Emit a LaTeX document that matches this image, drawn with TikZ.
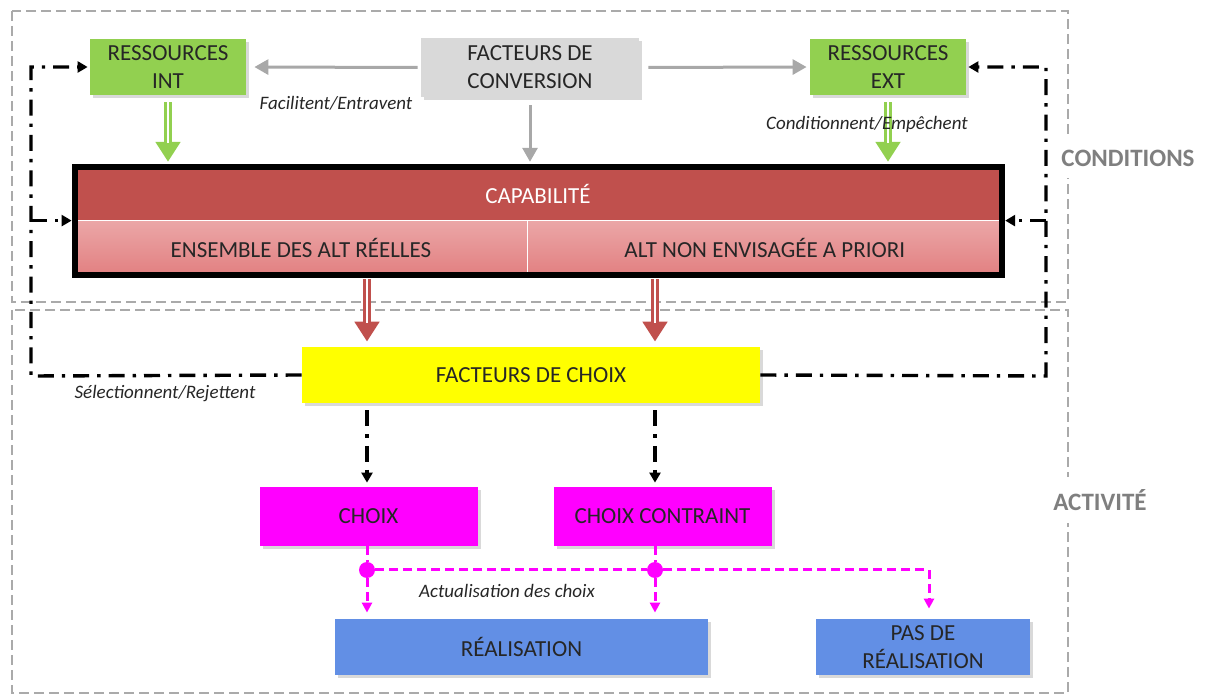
\documentclass[tikz,border=0pt]{standalone}
\usepackage{fontspec}
\setmainfont{Carlito}
\usetikzlibrary{arrows.meta,positioning,shadows}

\definecolor{resgreen}{RGB}{146,208,80}
\definecolor{convgray}{RGB}{217,217,217}
\definecolor{arrgray}{RGB}{168,168,168}
\definecolor{capred}{RGB}{192,80,77}
\definecolor{altred}{RGB}{226,128,129}
\definecolor{choixyellow}{RGB}{255,255,0}
\definecolor{choixmag}{RGB}{255,0,255}
\definecolor{realblue}{RGB}{98,143,229}
\definecolor{zonegray}{RGB}{170,170,170}
\definecolor{zonetext}{RGB}{127,127,127}
\definecolor{txtdark}{RGB}{38,38,38}

\begin{document}
\begin{tikzpicture}[x=0.5pt,y=-0.5pt,
   box/.style={rectangle,inner sep=0pt,align=center,text=txtdark,
               font=\fontsize{11.5}{14}\selectfont,
               drop shadow={shadow xshift=1.5pt,shadow yshift=-1.5pt,opacity=0.3}},
   res/.style={box,fill=resgreen,minimum width=78pt,minimum height=28pt},
   conv/.style={box,fill=convgray,minimum width=109pt,minimum height=29.5pt},
   capbox/.style={rectangle,inner sep=0pt,fill=capred,text=white,
                  font=\fontsize{11.5}{14}\selectfont,minimum width=463pt,minimum height=26.5pt},
   altbox/.style={rectangle,inner sep=0pt,top color=altred!70!white,bottom color=altred,
                  text=txtdark,font=\fontsize{11.5}{14}\selectfont,minimum height=27pt},
   fchoix/.style={box,fill=choixyellow,minimum width=229pt,minimum height=28pt},
   choix/.style={box,fill=choixmag,minimum width=109pt,minimum height=29.5pt},
   real/.style={box,fill=realblue,minimum height=28pt},
   dot/.style={circle,fill=choixmag,inner sep=0pt,minimum size=8pt},
   lbl/.style={text=txtdark,font=\fontsize{9.5}{11}\selectfont\itshape},
   zonelbl/.style={fill=white,text=zonetext,inner xsep=2pt,inner ysep=6pt,
                   font=\fontsize{12.5}{14}\selectfont\bfseries},
   zone/.style={zonegray,line width=1pt,dash pattern=on 5pt off 2.5pt},
   cvarrow/.style={arrgray,line width=1.5pt,-{Triangle[length=7pt,width=7.5pt]}},
   wide/.style={line width=4pt,-{Triangle[length=10pt,width=12pt]}},
   gap/.style={white,line width=1.4pt},
   choice/.style={line width=1.7pt,dash pattern=on 8pt off 4pt on 1.7pt off 4pt},
   tip/.style={-{Triangle[length=5pt,width=5.5pt]}},
   act/.style={choixmag,line width=1.5pt,dash pattern=on 4.5pt off 2.5pt},
   acttip/.style={-{Triangle[length=5pt,width=5pt]}}]

   \useasboundingbox (0,0) rectangle (1207,695);

   \draw[zone] (12,11) rectangle (1068,302);
   \draw[zone] (12,310) rectangle (1068,693);
   \node[zonelbl] (zc) at (1128,158) {CONDITIONS};
   \node[zonelbl] (za) at (1100,500) {ACTIVITÉ};

   \node[res]  (ri)  at (168,67)   {RESSOURCES\\INT};
   \node[conv] (fdc) at (530,67.5) {FACTEURS DE\\CONVERSION};
   \node[res]  (re)  at (888,67)   {RESSOURCES\\EXT};

   \node[altbox,minimum width=226pt] (alta) at (301,248) {ENSEMBLE DES ALT RÉELLES};
   \node[altbox,minimum width=237pt] (altb) [right=0pt of alta] {ALT NON ENVISAGÉE A PRIORI};
   \node[capbox] (cap) [above=0pt of alta.north west,anchor=south west] {CAPABILITÉ};
   \draw[white,line width=0.6pt] (alta.north west) -- (altb.north east)
                                 (alta.north east) -- (alta.south east);
   \draw[line width=3pt] (cap.north west) rectangle (altb.south east);

   \node[fchoix] (fch)  at (531,375)     {FACTEURS DE CHOIX};
   \node[choix]  (cho)  at (368.5,516.5) {CHOIX};
   \node[choix]  (cc)   at (662.5,516.5) {CHOIX CONTRAINT};
   \node[real,minimum width=186.5pt] (rea) at (521.5,647) {RÉALISATION};
   \node[real,minimum width=107pt]   (pas) at (923,647)   {PAS DE\\RÉALISATION};

   \coordinate (xa) at (367,0);
   \coordinate (xb) at (655,0);
   \coordinate (lc) at (31,376);
   \coordinate (rc) at (1046,376);
   \node[dot] (da) at (367,570) {};
   \node[dot] (db) at (655,570) {};
   \coordinate (pk) at (929,570);

   \draw[cvarrow,shorten <=1.5pt,shorten >=4pt] (fdc.west) -- (ri.east);
   \draw[cvarrow,shorten <=4.5pt,shorten >=1.5pt] (fdc.east) -- (re.west);
   \draw[cvarrow,shorten <=4pt,shorten >=2.5pt] (fdc.south) -- (cap.north -| fdc.south);

   \draw[wide,resgreen,shorten <=3.5pt,shorten >=2.5pt] (ri.south) -- (cap.north -| ri.south);
   \draw[gap,shorten <=3.5pt,shorten >=12pt] (ri.south) -- (cap.north -| ri.south);
   \draw[wide,resgreen,shorten <=3.5pt,shorten >=2.5pt] (re.south) -- (cap.north -| re.south);
   \draw[gap,shorten <=3.5pt,shorten >=12pt] (re.south) -- (cap.north -| re.south);

   \draw[wide,capred,shorten <=2pt,shorten >=2.5pt] (alta.south -| xa) -- (fch.north -| xa);
   \draw[gap,shorten <=2pt,shorten >=12pt] (alta.south -| xa) -- (fch.north -| xa);
   \draw[wide,capred,shorten <=2pt,shorten >=2.5pt] (altb.south -| xb) -- (fch.north -| xb);
   \draw[gap,shorten <=2pt,shorten >=12pt] (altb.south -| xb) -- (fch.north -| xb);

   \draw[choice,tip,shorten >=1pt] (fch.west) -- (lc) |- (ri.west);
   \draw[choice,tip,shorten >=1.5pt] (lc |- alta.north) -- (alta.north west);
   \draw[choice,tip,shorten >=1pt] (fch.east) -- (rc) |- (re.east);
   \draw[choice,tip,shorten >=1.5pt] (rc |- altb.north) -- (altb.north east);
   \draw[choice,tip,shorten <=3.5pt,shorten >=2pt] (fch.south -| xa) -- (cho.north -| xa);
   \draw[choice,tip,shorten <=3.5pt,shorten >=2pt] (fch.south -| xb) -- (cc.north -| xb);

   \draw[act] (cho.south -| da) -- (da);
   \draw[act] (cc.south -| db) -- (db);
   \draw[act] (da) -- (db) -- (pk);
   \draw[act,acttip,shorten >=3pt] (da) -- (rea.north -| da);
   \draw[act,acttip,shorten >=3pt] (db) -- (rea.north -| db);
   \draw[act,acttip,shorten >=5pt] (pk) -- (pas.north -| pk);

   \node[lbl] (fe) at (336,103) {Facilitent/Entravent};
   \node[lbl] (ce) at (867,124) {Conditionnent/Empêchent};
   \node[lbl] (sr) at (165,394) {Sélectionnent/Rejettent};
   \node[lbl] (ac) at (507,591) {Actualisation des choix};
\end{tikzpicture}
\end{document}
